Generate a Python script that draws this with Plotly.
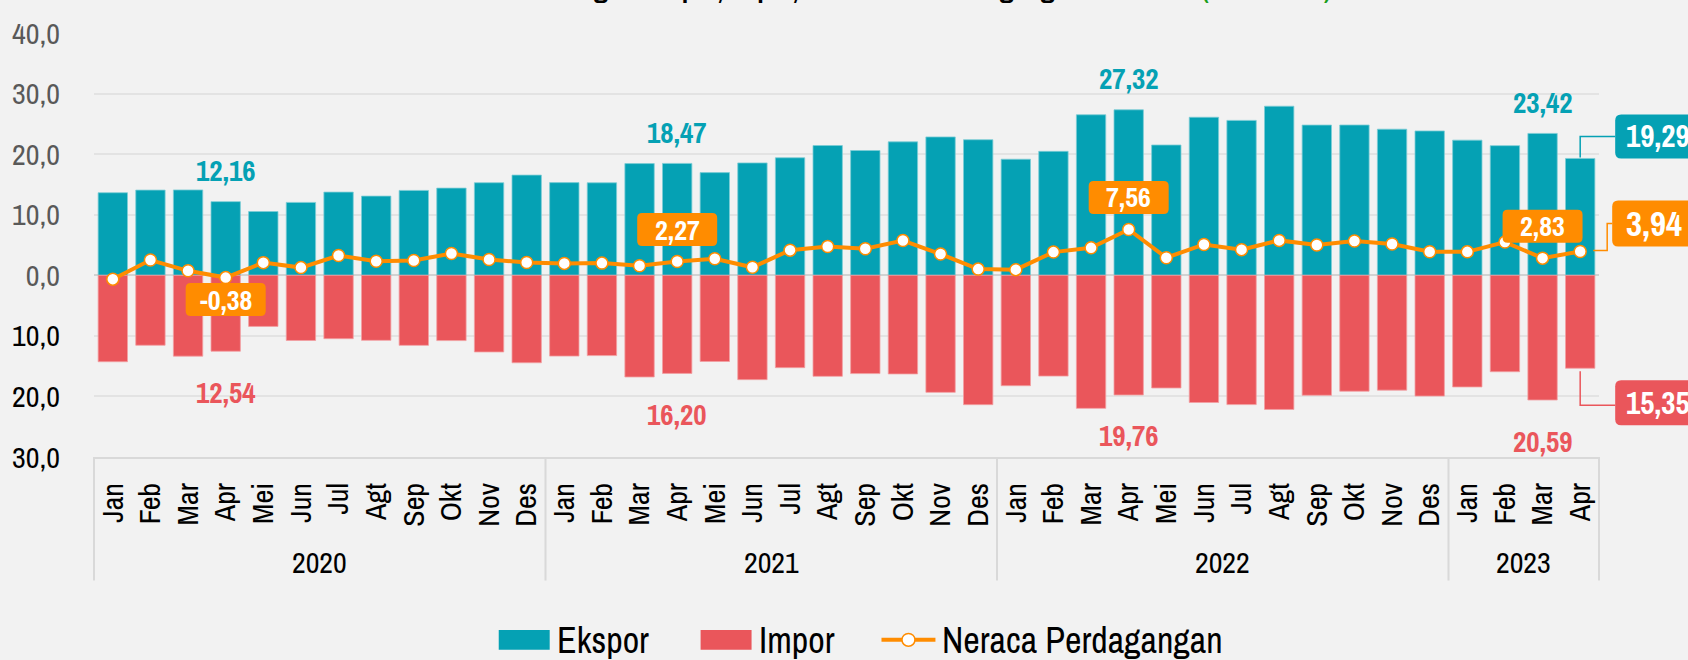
import plotly.graph_objects as go

# ---- data (miliar USD) ----
bulan = ["Jan", "Feb", "Mar", "Apr", "Mei", "Jun", "Jul", "Agt", "Sep", "Okt", "Nov", "Des"]
tahun = ["2020"] * 12 + ["2021"] * 12 + ["2022"] * 12 + ["2023"] * 4
months = bulan * 3 + bulan[:4]

ekspor = [13.63, 14.06, 14.09, 12.16, 10.53, 12.03, 13.73, 13.07, 14.01, 14.39, 15.28, 16.54,
          15.30, 15.27, 18.44, 18.47, 16.95, 18.55, 19.40, 21.42, 20.60, 22.03, 22.84, 22.38,
          19.16, 20.46, 26.50, 27.32, 21.51, 26.09, 25.57, 27.91, 24.80, 24.81, 24.12, 23.83,
          22.31, 21.40, 23.42, 19.29]
impor = [14.27, 11.55, 13.35, 12.54, 8.44, 10.76, 10.47, 10.74, 11.57, 10.78, 12.66, 14.44,
         13.34, 13.26, 16.79, 16.20, 14.23, 17.23, 15.25, 16.68, 16.23, 16.29, 19.33, 21.36,
         18.23, 16.64, 21.97, 19.76, 18.61, 21.00, 21.35, 22.15, 19.81, 19.14, 18.96, 19.94,
         18.44, 15.92, 20.59, 15.35]
neraca = [-0.64, 2.51, 0.74, -0.38, 2.09, 1.27, 3.26, 2.33, 2.44, 3.61, 2.62, 2.10,
          1.96, 2.01, 1.57, 2.27, 2.72, 1.32, 4.15, 4.74, 4.37, 5.74, 3.51, 1.02,
          0.93, 3.83, 4.53, 7.56, 2.90, 5.09, 4.23, 5.76, 4.99, 5.67, 5.16, 3.89,
          3.87, 5.48, 2.83, 3.94]

label_idx = [3, 15, 27, 38]          # highlighted months (Apr of each year, Mar 2023)
last_idx = len(months) - 1           # latest month, called out on the right
y_ticks = [-30, -20, -10, 0, 10, 20, 30, 40]

# ---- style ----
TEAL = "#05a1b4"
RED = "#ea565b"
ORANGE = "#ff8c00"
BG = "#f2f2f2"
AXIS_GREY = "#d9d9d9"
NARROW = "Liberation Sans Narrow, Arial Narrow, Archivo Narrow, sans-serif"

W, H = 1688, 660
L, R, T, B = 93, 89, 28, 203
PW, PH = W - L - R, H - T - B
N = len(months)


def fmt(v):
    return f"{v:.2f}".replace(".", ",")


def cat_x(i):
    """Paper fraction of the centre of category i."""
    return (i + 0.5) / N


def px_x(px):
    return (px - L) / PW


def px_y(py):
    return (T + PH - py) / PH


def rounded(x0, x1, y0, y1, r=5):
    return (f"M{x0 + r},{y0} H{x1 - r} Q{x1},{y0} {x1},{y0 + r} V{y1 - r} "
            f"Q{x1},{y1} {x1 - r},{y1} H{x0 + r} Q{x0},{y1} {x0},{y1 - r} "
            f"V{y0 + r} Q{x0},{y0} {x0 + r},{y0} Z")


# one category per month; the axis shows the month name, the year row is added below
x_cat = [f"{m} {t}" for m, t in zip(months, tahun)]

fig = go.Figure()
fig.add_bar(x=x_cat, y=ekspor, name="Ekspor",
            marker=dict(color=TEAL, line=dict(color="#7ccdd6", width=0.8)))
fig.add_bar(x=x_cat, y=[-v for v in impor], name="Impor",
            marker=dict(color=RED, line=dict(color="#f2a0a2", width=0.8)))
fig.add_scatter(x=x_cat, y=neraca, name="Neraca Perdagangan", mode="lines+markers",
                line=dict(color=ORANGE, width=4),
                marker=dict(size=12, color="white", line=dict(color=ORANGE, width=1.5)))

tick_text = []
for v in y_ticks:
    s = f"{abs(v):.1f}".replace(".", ",")
    tick_text.append(s if v >= 0 else f"<span style='color:#000000'>{s}</span>")

shapes = []
annotations = []

# year row with group dividers
groups = []
for i, t in enumerate(tahun):
    if not groups or groups[-1][0] != t:
        groups.append([t, i, i])
    else:
        groups[-1][2] = i
for t, first, last in groups:
    annotations.append(dict(x=cat_x((first + last) / 2), xref="paper", y=px_y(563), yref="paper",
                            xanchor="center", yanchor="middle", text=t, showarrow=False,
                            font=dict(family=NARROW, size=30, color="black")))
bounds = [g[1] for g in groups] + [N]
for b in bounds:
    shapes.append(dict(type="line", xref="paper", yref="paper", x0=b / N, x1=b / N,
                       y0=0, y1=px_y(582), line=dict(color=AXIS_GREY, width=2)))

# highlighted values
for i in label_idx:
    annotations.append(dict(x=cat_x(i), xref="paper", y=ekspor[i], yref="y", yshift=31,
                            xanchor="center", yanchor="middle",
                            text=f"<b>{fmt(ekspor[i])}</b>", showarrow=False,
                            font=dict(family=NARROW, size=29, color=TEAL)))
    annotations.append(dict(x=cat_x(i), xref="paper", y=-impor[i], yref="y", yshift=-41,
                            xanchor="center", yanchor="middle",
                            text=f"<b>{fmt(impor[i])}</b>", showarrow=False,
                            font=dict(family=NARROW, size=29, color=RED)))
    off = 32 if neraca[i] >= 0 else -22
    shapes.append(dict(type="path", xref="paper", yref="y", xsizemode="pixel", ysizemode="pixel",
                       xanchor=cat_x(i), yanchor=neraca[i],
                       path=rounded(-40, 40, off - 16.5, off + 16.5),
                       fillcolor=ORANGE, line=dict(width=0), layer="above"))
    annotations.append(dict(x=cat_x(i), xref="paper", y=neraca[i], yref="y", yshift=off,
                            xanchor="center", yanchor="middle",
                            text=f"<b>{fmt(neraca[i])}</b>", showarrow=False,
                            font=dict(family=NARROW, size=28, color="white")))

# call-outs for the latest month
j = last_idx
callouts = [
    (ekspor[j], TEAL, "M0,1 V22 H35", (35, 130, 0, 44), 22, 31, fmt(ekspor[j])),
    (neraca[j], ORANGE, "M13,1 H27 V28 H32", (32, 130, 5, 51), 28, 35, fmt(neraca[j])),
    (-impor[j], RED, "M0,-3 V-37 H35", (35, 130, -57, -12), -34.5, 31, fmt(impor[j])),
]
for yv, col, leader, (bx0, bx1, by0, by1), yoff, fsize, txt in callouts:
    shapes.append(dict(type="path", xref="paper", yref="y", xsizemode="pixel", ysizemode="pixel",
                       xanchor=cat_x(j), yanchor=yv, path=leader,
                       line=dict(color=col, width=1.5), layer="above"))
    shapes.append(dict(type="path", xref="paper", yref="y", xsizemode="pixel", ysizemode="pixel",
                       xanchor=cat_x(j), yanchor=yv, path=rounded(bx0, bx1, by0, by1, 6),
                       fillcolor=col, line=dict(width=0), layer="above"))
    annotations.append(dict(x=cat_x(j), xref="paper", y=yv, yref="y", xshift=44, yshift=yoff,
                            xanchor="left", yanchor="middle", text=f"<b>{txt}</b>", showarrow=False,
                            font=dict(family=NARROW, size=fsize, color="white")))

# legend
leg_y = px_y(642)
shapes += [
    dict(type="rect", xref="paper", yref="paper", x0=px_x(498), x1=px_x(549),
         y0=px_y(652), y1=px_y(632), fillcolor=TEAL, line=dict(width=0)),
    dict(type="rect", xref="paper", yref="paper", x0=px_x(700), x1=px_x(751),
         y0=px_y(652), y1=px_y(632), fillcolor=RED, line=dict(width=0)),
    dict(type="line", xref="paper", yref="paper", x0=px_x(881), x1=px_x(935),
         y0=leg_y, y1=leg_y, line=dict(color=ORANGE, width=4)),
    dict(type="circle", xref="paper", yref="paper", x0=px_x(901.5), x1=px_x(914.5),
         y0=px_y(648.5), y1=px_y(635.5), fillcolor="white", line=dict(color=ORANGE, width=1.5)),
]
for px, name in [(554, "Ekspor"), (756, "Impor"), (940, "Neraca Perdagangan")]:
    annotations.append(dict(x=px_x(px), xref="paper", y=leg_y, yref="paper", xanchor="left",
                            yanchor="middle", text=name, showarrow=False,
                            font=dict(family=NARROW, size=36, color="black")))

# title
annotations.append(dict(x=px_x(900), xref="paper", y=px_y(4), yref="paper",
                        xanchor="center", yanchor="bottom", showarrow=False,
                        text="<b>Perkembangan Ekspor, Impor, dan Neraca Perdagangan Indonesia "
                             "<span style='color:#1a9e1a'>(Miliar USD)</span></b>",
                        font=dict(family=NARROW, size=28, color="black")))

fig.update_layout(
    width=W, height=H,
    margin=dict(l=L, r=R, t=T, b=B),
    paper_bgcolor=BG, plot_bgcolor=BG,
    barmode="relative", bargap=0.22,
    showlegend=False,
    shapes=shapes, annotations=annotations,
    xaxis=dict(type="category", range=[-0.5, N - 0.5],
               tickvals=x_cat, ticktext=months, tickangle=-90,
               tickfont=dict(family=NARROW, size=30, color="black"),
               showline=True, linecolor=AXIS_GREY, linewidth=2,
               showgrid=False, ticks="outside", ticklen=12, tickcolor="rgba(0,0,0,0)"),
    yaxis=dict(range=[-30, 40], tickvals=y_ticks, ticktext=tick_text,
               tickfont=dict(family=NARROW, size=30, color="#595959"),
               showgrid=True, gridcolor="#e3e3e3", gridwidth=2,
               zeroline=True, zerolinecolor="#d2d2d2", zerolinewidth=2,
               ticks="outside", ticklen=27, tickcolor="rgba(0,0,0,0)"),
)

fig.write_html("out.html")
